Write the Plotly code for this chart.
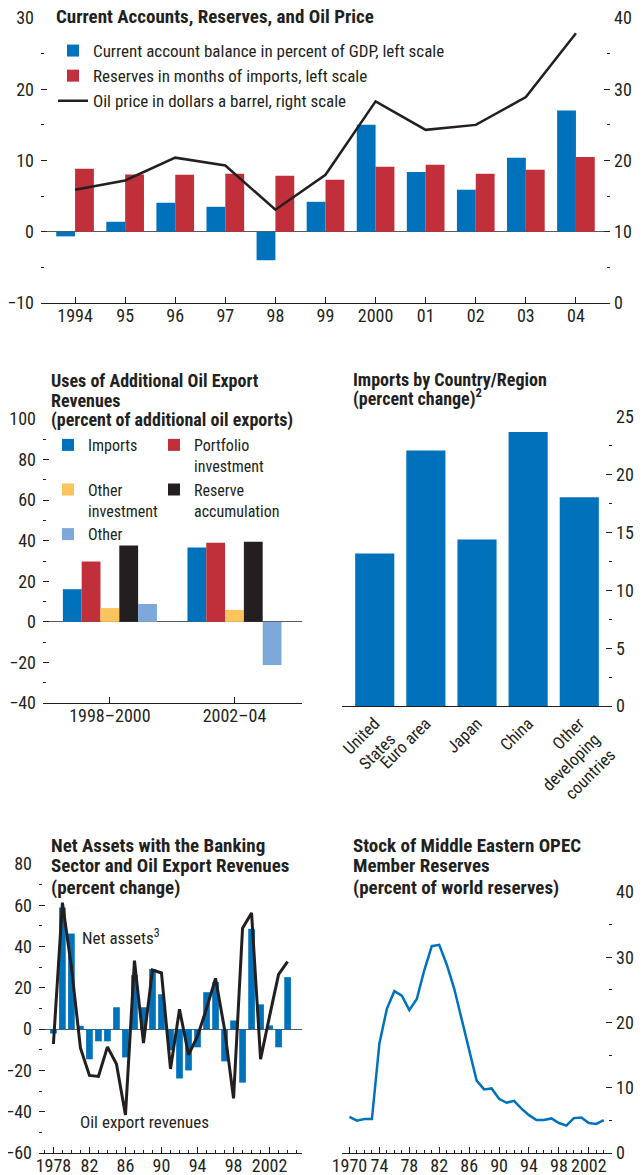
import plotly.graph_objects as go

# The page body adds an 8px margin, so the figure is sized/positioned to fill the 643x1175 view.
OFF = 8
W, H = 643 - OFF, 1175 - OFF
FONT = "Roboto Condensed, DejaVu Sans Condensed, Liberation Sans Narrow, Arial Narrow, Roboto, sans-serif"
INK = "#231F20"
BLUE = "#0072BC"
RED = "#C1303A"
YELLOW = "#FDC45E"
BLACK = "#231F20"
LIGHTBLUE = "#7DA9DA"

# ---------------- data ----------------
# Panel 1: Current accounts, reserves and oil price
years_top = [1994, 1995, 1996, 1997, 1998, 1999, 2000, 2001, 2002, 2003, 2004]
year_labels_top = ["1994", "95", "96", "97", "98", "99", "2000", "01", "02", "03", "04"]
current_account = [-0.65, 1.4, 4.07, 3.5, -4.0, 4.2, 15.0, 8.4, 5.9, 10.4, 17.0]
reserves_months = [8.83, 8.04, 8.0, 8.13, 7.85, 7.29, 9.11, 9.39, 8.13, 8.69, 10.5]
oil_price = [15.9, 17.2, 20.4, 19.3, 13.1, 18.0, 28.3, 24.3, 25.0, 28.9, 37.85]

# Panel 2: Uses of additional oil export revenues
periods = ["1998\u20132000", "2002\u201304"]
uses_imports = [16.1, 36.6]
uses_portfolio = [29.8, 39.0]
uses_other_inv = [6.8, 5.9]
uses_reserves = [37.6, 39.5]
uses_other = [8.8, -21.3]

# Panel 3: Imports by country/region
regions = ["United<br>States", "Euro area", "Japan", "China", "Other<br>developing<br>countries"]
import_change = [13.2, 22.1, 14.4, 23.7, 18.05]

# Panel 4: Net assets with banking sector and oil export revenues
years_bl = list(range(1978, 2005))
net_assets = [-2.1, 58.9, 46.3, 1.6, -14.6, -5.9, -5.9, 10.6, -13.7, 26.2, 10.6, 29.1, 16.9, -10.2,
              -23.9, -20.0, -8.8, 17.9, 22.8, -15.6, 4.2, -25.9, 48.6, 12.0, 1.8, -8.8, 25.2]
oil_export_rev = [-7.2, 61.3, 30.0, -9.1, -22.4, -22.9, -8.6, -16.9, -41.6, 33.2, -6.7, 28.6, 27.2, -19.3,
                  9.6, -12.4, -3.4, 10.0, 24.6, 0.0, -33.5, 48.9, 56.3, -14.5, 6.3, 26.5, 32.7]
bl_tickvals = [1978, 1982, 1986, 1990, 1994, 1998, 2002]
bl_ticktext = ["1978", "82", "86", "90", "94", "98", "2002"]

# Panel 5: Stock of Middle Eastern OPEC member reserves
years_br = list(range(1970, 2005))
opec_share = [5.55, 4.95, 5.2, 5.2, 16.8, 22.1, 24.8, 24.1, 21.9, 23.6, 28.0, 31.7, 31.9, 28.9, 25.2,
              20.6, 15.6, 11.1, 9.75, 9.9, 8.3, 7.7, 8.0, 6.8, 5.8, 5.05, 5.05, 5.3, 4.6, 4.2, 5.35,
              5.45, 4.6, 4.45, 5.05]
br_tickvals = [1970, 1974, 1978, 1982, 1986, 1990, 1994, 1998, 2002]
br_ticktext = ["1970", "74", "78", "82", "86", "90", "94", "98", "2002"]


def px(x):
    return (x - OFF) / W


def py(y):
    return 1 - (y - OFF) / H


def xd(a, b):
    return [px(a), px(b)]


def yd(top, bottom):
    return [py(bottom), py(top)]


fig = go.Figure()

# ---- Panel 1 ----
fig.add_trace(go.Bar(x=years_top, y=current_account, name="Current account balance in percent of GDP, left scale",
                     marker=dict(color=BLUE, line=dict(width=0)), width=0.376, offset=-0.376,
                     xaxis="x", yaxis="y", legend="legend"))
fig.add_trace(go.Bar(x=years_top, y=reserves_months, name="Reserves in months of imports, left scale",
                     marker=dict(color=RED, line=dict(width=0)), width=0.376, offset=0,
                     xaxis="x", yaxis="y", legend="legend"))
fig.add_trace(go.Scatter(x=years_top, y=oil_price, name="Oil price in dollars a barrel, right scale",
                         mode="lines", line=dict(color=BLACK, width=2.5),
                         xaxis="x", yaxis="y2", legend="legend"))

# ---- Panel 2 ----
bw2 = 0.151
uses = [
    ("Imports<br>\u00a0", uses_imports, BLUE, "legend2"),
    ("Portfolio<br>investment", uses_portfolio, RED, "legend3"),
    ("Other<br>investment", uses_other_inv, YELLOW, "legend2"),
    ("Reserve<br>accumulation", uses_reserves, BLACK, "legend3"),
    ("Other", uses_other, LIGHTBLUE, "legend2"),
]
for i, (nm, vals, col, lg) in enumerate(uses):
    fig.add_trace(go.Bar(x=periods, y=vals, name=nm, marker=dict(color=col, line=dict(width=0)),
                         width=bw2, offset=-2.5 * bw2 + i * bw2,
                         xaxis="x2", yaxis="y3", legend=lg))

# ---- Panel 3 ----
fig.add_trace(go.Bar(x=regions, y=import_change, marker=dict(color=BLUE, line=dict(width=0)),
                     width=0.765, showlegend=False, xaxis="x3", yaxis="y5"))

# ---- Panel 4 ----
fig.add_trace(go.Bar(x=years_bl, y=net_assets, marker=dict(color=BLUE, line=dict(width=0)),
                     width=0.74, showlegend=False, xaxis="x4", yaxis="y7"))
fig.add_trace(go.Scatter(x=years_bl, y=oil_export_rev, mode="lines", line=dict(color=BLACK, width=3),
                         showlegend=False, xaxis="x4", yaxis="y7"))

# ---- Panel 5 ----
fig.add_trace(go.Scatter(x=years_br, y=opec_share, mode="lines", line=dict(color=BLUE, width=2.5),
                         showlegend=False, xaxis="x5", yaxis="y9"))

tickfont = dict(family=FONT, size=18, color=INK)


def yax(domain, rng, dtick, minor, side="left", labels=True, anchor="x", overlay=None, zero=False):
    d = dict(domain=domain, range=rng, dtick=dtick, tick0=0, tickmode="linear",
             ticks="inside", ticklen=6, tickwidth=1, tickcolor=INK,
             minor=dict(ticks="inside", dtick=minor, tick0=0, ticklen=3, tickwidth=1, tickcolor=INK),
             showgrid=False, showline=False, side=side, anchor=anchor,
             showticklabels=labels, tickfont=tickfont, fixedrange=True, automargin=False,
             ticklabelstandoff=(6 if side == "left" else 3), ticklabeloverflow="allow",
             zeroline=zero, zerolinecolor="#5a5a5a", zerolinewidth=1)
    if overlay:
        d["overlaying"] = overlay
    return d


def xax(domain, anchor, **kw):
    d = dict(domain=domain, anchor=anchor, ticks="inside", ticklen=6, tickcolor=INK,
             showline=True, linecolor=INK, linewidth=1, showgrid=False, zeroline=False,
             tickfont=tickfont, automargin=False, fixedrange=True, tickangle=0,
             ticklabelstandoff=-4, ticklabeloverflow="allow")
    d.update(kw)
    return d


layout = dict(
    width=W, height=H, margin=dict(l=0, r=0, t=0, b=0, pad=0, autoexpand=False),
    paper_bgcolor="white", plot_bgcolor="rgba(0,0,0,0)",
    barmode="overlay", font=dict(family=FONT, color=INK, size=16),
    # panel 1
    xaxis=xax(xd(41, 610), "y", range=[1993.32, 2004.68], tickmode="array",
              tickvals=years_top, ticktext=year_labels_top),
    yaxis=yax(yd(18, 303), [-10, 30], 10, 5, anchor="x", zero=True),
    yaxis2=yax(yd(18, 303), [0, 40], 10, 5, side="right", anchor="x", overlay="y"),
    # panel 2
    xaxis2=xax(xd(43, 302), "y3", type="category", range=[-0.537, 1.542]),
    yaxis3=yax(yd(419, 703), [-40, 100], 20, 10, anchor="x2", zero=True),
    yaxis4=yax(yd(419, 703), [-40, 100], 20, 10, side="right", labels=False, anchor="x2", overlay="y3"),
    # panel 3
    xaxis3=xax(xd(342, 612), "y5", type="category", range=[-0.64, 4.64], ticks="",
               tickangle=-45, ticklabelstandoff=0, tickfont=dict(family=FONT, size=17, color=INK)),
    yaxis5=yax(yd(417, 706), [0, 25], 5, 2.5, side="right", anchor="x3"),
    yaxis6=yax(yd(417, 706), [0, 25], 5, 2.5, side="left", labels=False, anchor="x3", overlay="y5"),
    # panel 4
    xaxis4=xax(xd(39, 302), "y7", range=[1976.4, 2005.6], tickmode="array",
               tickvals=bl_tickvals, ticktext=bl_ticktext,
               minor=dict(tickmode="linear", tick0=1978, dtick=1, ticks="inside", ticklen=3, tickcolor=INK)),
    yaxis7=yax(yd(864, 1153), [-60, 80], 20, 10, anchor="x4", zero=True),
    yaxis8=yax(yd(864, 1153), [-60, 80], 20, 10, side="right", labels=False, anchor="x4", overlay="y7"),
    # panel 5
    xaxis5=xax(xd(342, 612), "y9", range=[1969.0, 2005.1], tickmode="array",
               tickvals=br_tickvals, ticktext=br_ticktext,
               minor=dict(tickmode="linear", tick0=1970, dtick=1, ticks="inside", ticklen=3, tickcolor=INK)),
    yaxis9=yax(yd(892, 1153), [0, 40], 10, 5, side="right", anchor="x5"),
    yaxis10=yax(yd(892, 1153), [0, 40], 10, 5, side="left", labels=False, anchor="x5", overlay="y9"),
    legend=dict(x=px(53), y=py(33), xanchor="left", yanchor="top", bgcolor="rgba(0,0,0,0)",
                font=dict(family=FONT, size=17, color=INK), traceorder="normal", borderwidth=0),
    legend2=dict(x=px(48), y=py(428), xanchor="left", yanchor="top", bgcolor="rgba(0,0,0,0)",
                 font=dict(family=FONT, size=16, color=INK), traceorder="normal", valign="top", borderwidth=0),
    legend3=dict(x=px(154), y=py(428), xanchor="left", yanchor="top", bgcolor="rgba(0,0,0,0)",
                 font=dict(family=FONT, size=16, color=INK), traceorder="normal", valign="top", borderwidth=0),
)
fig.update_layout(**layout)

TFONT = dict(family=FONT, size=19, color=INK, weight="bold")
TFONT_M = dict(family=FONT, size=18, color=INK, weight="bold")
titles = [
    (55, 17, "Current Accounts, Reserves, and Oil Price", TFONT),
    (50, 380, "Uses of Additional Oil Export", TFONT_M),
    (50, 400, "Revenues", TFONT_M),
    (50, 420, "(percent of additional oil exports)", TFONT_M),
    (352, 379, "Imports by Country/Region", TFONT_M),
    (352, 398, "(percent change)<sup>2</sup>", TFONT_M),
    (50, 845, "Net Assets with the Banking", TFONT),
    (50, 865, "Sector and Oil Export Revenues", TFONT),
    (50, 887, "(percent change)", TFONT),
    (352, 845, "Stock of Middle Eastern OPEC", TFONT),
    (352, 865, "Member Reserves", TFONT),
    (352, 887, "(percent of world reserves)", TFONT),
]
for x, y, t, f in titles:
    fig.add_annotation(x=px(x), y=py(y), xref="paper", yref="paper", text=t, showarrow=False,
                       xanchor="left", yanchor="middle", font=f, borderpad=0)

fig.add_annotation(x=1980.9, y=44.4, xref="x4", yref="y7", text="Net assets<sup>3</sup>", showarrow=False,
                   xanchor="left", yanchor="middle", font=dict(family=FONT, size=17, color=INK))
fig.add_annotation(x=1980.7, y=-45, xref="x4", yref="y7", text="Oil export revenues", showarrow=False,
                   xanchor="left", yanchor="middle", font=dict(family=FONT, size=17, color=INK))

fig.write_html("out.html")
